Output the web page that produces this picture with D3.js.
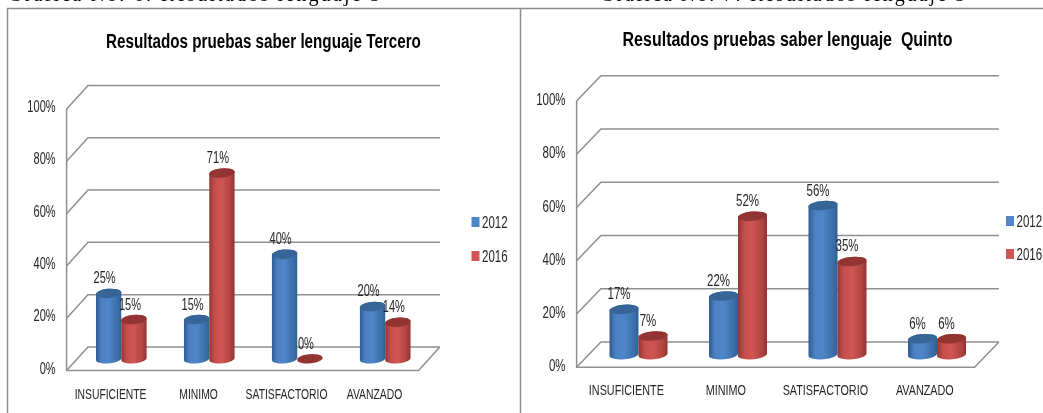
<!DOCTYPE html>
<html>
<head>
<meta charset="utf-8">
<script src="https://d3js.org/d3.v7.min.js"></script>
<style>
  html, body { margin: 0; padding: 0; background: #fff; overflow: hidden; }
  svg { display: block; }
  text { font-family: "Liberation Sans", sans-serif; fill: #262626; white-space: pre; }
</style>
</head>
<body>
<svg id="chart" width="1043" height="413"></svg>
<script>
const categories = ["INSUFICIENTE", "MINIMO", "SATISFACTORIO", "AVANZADO"];
const years = ["2012", "2016"];
const tercero2012 = [25, 15, 40, 20];
const tercero2016 = [15, 71, 0, 14];
const quinto2012 = [17, 22, 56, 6];
const quinto2016 = [7, 52, 35, 6];
const ticks = [0, 20, 40, 60, 80, 100];

const svg = d3.select("#chart");
const defs = svg.append("defs");

defs.append("filter").attr("id", "soft")
  .append("feGaussianBlur").attr("stdDeviation", 0.35);

// Degradado horizontal de los cilindros
const bodyStops = {
  "2012": ["#2e5c91", "#4c82c4", "#4f86c8", "#3c6ea8", "#2f5f96"],
  "2016": ["#933532", "#c64f4d", "#cf5553", "#b04341", "#8e3330"]
};
const topColor = { "2012": "#376597", "2016": "#923633" };

years.forEach(y => {
  const g = defs.append("linearGradient").attr("id", "body" + y);
  bodyStops[y].forEach((c, i) => {
    g.append("stop").attr("offset", [0, 0.22, 0.5, 0.85, 1][i]).attr("stop-color", c);
  });
});

// Cuerpo y tapa de un cilindro levemente inclinado
const cylinder = (cx, rx, ry, tilt, yTop, yBase) => {
  return `M${cx - rx},${yTop + tilt}` +
    `A${rx},${ry} -5 0 1 ${cx + rx},${yTop - tilt}` +
    `L${cx + rx},${yBase - tilt}` +
    `A${rx},${ry} -5 0 1 ${cx - rx},${yBase + tilt}Z`;
};
const cap = (cx, rx, ry, tilt, y) => {
  return `M${cx - rx},${y + tilt}` +
    `A${rx},${ry} -5 0 1 ${cx + rx},${y - tilt}` +
    `A${rx},${ry} -5 0 1 ${cx - rx},${y + tilt}Z`;
};

// La fuente original es angosta: se comprime el texto a lo ancho
const condense = (sel, ratio) => {
  sel.each(function () {
    d3.select(this)
      .attr("textLength", this.getComputedTextLength() * ratio)
      .attr("lengthAdjust", "spacingAndGlyphs");
  });
};

function drawChart(opt) {
  const root = svg.append("g").attr("filter", "url(#soft)");

  const y = d3.scaleLinear().domain([0, 100]).range([opt.y0, opt.y100]);
  const x = d3.scaleBand().domain(categories).range([opt.x0, opt.x1]);
  const w = opt.barW;
  const ry = 4.6;
  const tilt = 1.4;

  // Paredes y rejilla
  const grid = d3.line();
  root.selectAll(".gridline").data(ticks).enter().append("path")
    .attr("class", "gridline")
    .attr("fill", "none")
    .attr("stroke", "#8f8f8f")
    .attr("stroke-width", 1.5)
    .attr("d", d => grid([
      [opt.x0, y(d)],
      [opt.x0 + opt.dx, y(d) - opt.dy],
      [opt.x1 + opt.dx, y(d) - opt.dy]
    ]));

  root.append("path")
    .attr("fill", "none")
    .attr("stroke", "#8f8f8f")
    .attr("stroke-width", 1.5)
    .attr("d", grid([
      [opt.x0, y(100)], [opt.x0, y(0)], [opt.x1, y(0)], [opt.x1 + opt.dx, y(0) - opt.dy]
    ]));

  // Cilindros
  const series = [
    { year: "2012", values: opt.a, off: -w / 2 },
    { year: "2016", values: opt.b, off: w / 2 }
  ];
  const labels = [];
  categories.forEach((c, i) => {
    series.forEach(s => {
      const cx = x(c) + x.bandwidth() / 2 + opt.dx / 2 + s.off;
      const base = y(0) - opt.dy / 2;
      const top = y(s.values[i]) - opt.dy / 2;
      if (s.values[i] > 0) {
        root.append("path").attr("d", cylinder(cx, w / 2, ry, tilt, top, base))
          .attr("fill", `url(#body${s.year})`);
      }
      root.append("path").attr("d", cap(cx, w / 2, ry, tilt, top))
        .attr("fill", topColor[s.year]);
      labels.push({ text: s.values[i] + "%", x: cx - opt.labelShift, y: top - 10 });
    });
  });

  // Etiquetas de valor
  root.selectAll(".val").data(labels).enter().append("text")
    .attr("class", "val")
    .attr("x", d => d.x)
    .attr("y", d => d.y)
    .attr("text-anchor", "middle")
    .attr("font-size", 16)
    .text(d => d.text)
    .call(condense, opt.textRatio);

  // Ejes
  const yAxis = root.append("g")
    .attr("transform", `translate(${opt.x0 - 8}, ${-opt.tickLift})`)
    .call(d3.axisLeft(y).tickValues(ticks).tickSize(0).tickPadding(3).tickFormat(d => d + "%"));
  const xAxis = root.append("g")
    .attr("transform", `translate(0, ${opt.xLabelY})`)
    .call(d3.axisBottom(x).tickSize(0));
  [yAxis, xAxis].forEach(a => {
    a.select(".domain").remove();
    a.selectAll("text")
      .style("font-family", "inherit")
      .attr("font-size", a === yAxis ? 16 : 15)
      .attr("fill", "#262626")
      .call(condense, opt.textRatio);
  });

  // Titulo
  root.append("text")
    .attr("x", opt.titleX)
    .attr("y", opt.titleY)
    .attr("text-anchor", "middle")
    .attr("font-size", 20)
    .attr("font-weight", "bold")
    .style("fill", "#000")
    .text(opt.title)
    .call(condense, opt.titleRatio);

  // Leyenda
  years.forEach((yr, i) => {
    root.append("rect")
      .attr("x", opt.legX)
      .attr("y", opt.legY[i] - 5)
      .attr("width", 8)
      .attr("height", 10)
      .attr("fill", bodyStops[yr][2]);
    root.append("text")
      .attr("x", opt.legX + 10.5)
      .attr("y", opt.legY[i] + 5.5)
      .attr("font-size", 16)
      .text(yr)
      .call(condense, 0.72);
  });
}

// Encabezados recortados del documento y marco
const heading = svg.append("g").attr("filter", "url(#soft)");
[["Gráfica No. 6: Resultados lenguaje 3", 8, 372], ["Gráfica No. 7: Resultados lenguaje 5", 600, 365]].forEach(h => {
  heading.append("text")
    .attr("x", h[1]).attr("y", 1)
    .attr("font-size", 20)
    .attr("textLength", h[2])
    .style("font-family", "'Liberation Serif', serif")
    .style("fill", "#000")
    .text(h[0]);
});

const frame = svg.append("g").attr("fill", "none").attr("stroke", "#8c8c8c").attr("stroke-width", 1.5);
frame.append("path").attr("d", d3.line()([[7.5, 413], [7.5, 8.5], [1043, 8.5]]));
frame.append("path").attr("d", d3.line()([[520.5, 8.5], [520.5, 413]]));

drawChart({
  title: "Resultados pruebas saber lenguaje Tercero", titleX: 263.5, titleY: 48, titleRatio: 0.76,
  a: tercero2012, b: tercero2016, textRatio: 0.69, tickLift: 2.5,
  x0: 66.6, x1: 418.5, y0: 370.6, y100: 109, dx: 21.4, dy: 23.6, barW: 25.3,
  labelShift: 4, xLabelY: 385, legX: 471.5, legY: [222, 256]
});
drawChart({
  title: "Resultados pruebas saber lenguaje  Quinto", titleX: 787.5, titleY: 45.7, titleRatio: 0.8,
  a: quinto2012, b: quinto2016, textRatio: 0.72, tickLift: 1.5,
  x0: 576.6, x1: 974.6, y0: 367.3, y100: 101, dx: 24.3, dy: 25.3, barW: 29,
  labelShift: 5, xLabelY: 381, legX: 1006, legY: [221, 254]
});
</script>
</body>
</html>
